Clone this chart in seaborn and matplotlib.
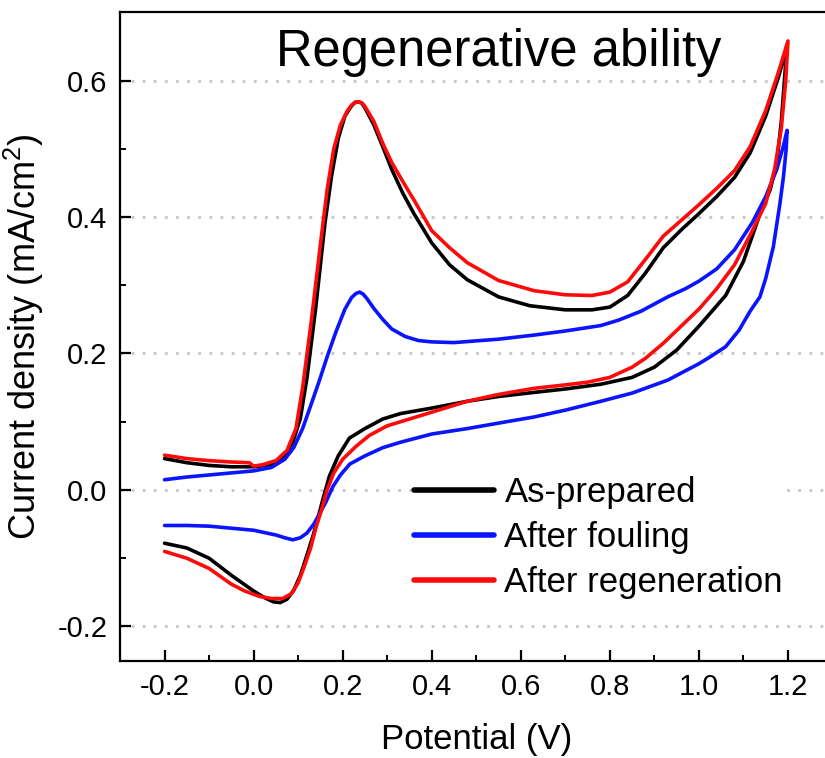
import numpy as np
import pandas as pd
import matplotlib
matplotlib.use("Agg")
import matplotlib.pyplot as plt
import seaborn as sns
from matplotlib.ticker import MultipleLocator

# --- data (forward scan then reverse scan) ---
as_prepared_E = [-0.2, -0.15, -0.1, -0.05, 0.0, 0.04, 0.065, 0.088, 0.105, 0.12, 0.14, 0.16, 0.175, 0.19,
                 0.205, 0.22, 0.228, 0.235, 0.243, 0.25, 0.27, 0.29, 0.31, 0.335, 0.36, 0.40, 0.44, 0.48, 0.55, 0.62,
                 0.70, 0.76, 0.80, 0.84, 0.88, 0.92, 0.96, 1.0, 1.04, 1.08, 1.115, 1.15, 1.18, 1.198,
                 1.192, 1.185, 1.175, 1.16, 1.14, 1.10, 1.06, 1.0, 0.95, 0.90, 0.85, 0.78, 0.70, 0.63,
                 0.55, 0.48, 0.44, 0.40, 0.33, 0.29, 0.25, 0.215, 0.19, 0.17, 0.155, 0.145, 0.133, 0.12,
                 0.105, 0.09, 0.075, 0.06, 0.045, 0.025, 0.0, -0.05, -0.1, -0.15, -0.2]
as_prepared_j = [0.046, 0.040, 0.036, 0.034, 0.034, 0.037, 0.046, 0.070, 0.105, 0.165, 0.27, 0.39, 0.46, 0.515,
                 0.548, 0.563, 0.568, 0.569, 0.567, 0.56, 0.535, 0.503, 0.47, 0.435, 0.405, 0.362, 0.33, 0.308, 0.283, 0.270,
                 0.264, 0.264, 0.268, 0.285, 0.318, 0.355, 0.381, 0.405, 0.43, 0.458, 0.494, 0.548, 0.608, 0.652,
                 0.60, 0.54, 0.48, 0.44, 0.41, 0.335, 0.285, 0.24, 0.205, 0.18, 0.165, 0.155, 0.148, 0.143,
                 0.137, 0.13, 0.125, 0.12, 0.112, 0.104, 0.09, 0.076, 0.05, 0.02, -0.015, -0.04, -0.068, -0.095,
                 -0.125, -0.147, -0.16, -0.165, -0.164, -0.158, -0.148, -0.125, -0.1, -0.085, -0.078]

fouled_E = [-0.2, -0.15, -0.1, -0.05, 0.0, 0.04, 0.07, 0.09, 0.11, 0.13, 0.148, 0.165, 0.185, 0.205,
            0.22, 0.23, 0.238, 0.246, 0.255, 0.27, 0.29, 0.31, 0.34, 0.37, 0.40, 0.45, 0.55, 0.63, 0.70, 0.78,
            0.82, 0.87, 0.93, 0.97, 1.0, 1.04, 1.08, 1.12, 1.15, 1.175, 1.19, 1.198,
            1.196, 1.19, 1.182, 1.167, 1.15, 1.137, 1.115, 1.09, 1.06, 1.025, 1.0, 0.93, 0.85, 0.78,
            0.70, 0.63, 0.55, 0.48, 0.40, 0.33, 0.29, 0.25, 0.216, 0.195, 0.178, 0.162, 0.148, 0.135,
            0.12, 0.105, 0.088, 0.07, 0.05, 0.0, -0.05, -0.1, -0.15, -0.2]
fouled_j = [0.015, 0.019, 0.022, 0.025, 0.028, 0.033, 0.045, 0.062, 0.09, 0.127, 0.161, 0.195, 0.232, 0.265,
            0.282, 0.288, 0.29, 0.287, 0.28, 0.266, 0.25, 0.236, 0.225, 0.219, 0.217, 0.216, 0.221, 0.227, 0.233, 0.241,
            0.249, 0.262, 0.283, 0.295, 0.306, 0.324, 0.352, 0.392, 0.43, 0.47, 0.505, 0.527,
            0.50, 0.46, 0.42, 0.356, 0.31, 0.283, 0.262, 0.234, 0.21, 0.195, 0.185, 0.161, 0.142, 0.13,
            0.117, 0.107, 0.098, 0.09, 0.082, 0.07, 0.062, 0.05, 0.038, 0.022, 0.005, -0.018, -0.035, -0.05,
            -0.063, -0.07, -0.073, -0.07, -0.066, -0.059, -0.056, -0.053, -0.052, -0.052]

regen_E = [-0.2, -0.15, -0.1, -0.05, -0.01, 0.0, 0.02, 0.05, 0.075, 0.095, 0.11, 0.13, 0.15, 0.165,
           0.18, 0.195, 0.21, 0.22, 0.228, 0.235, 0.243, 0.25, 0.27, 0.29, 0.31, 0.335, 0.36, 0.40, 0.44, 0.48,
           0.55, 0.63, 0.70, 0.76, 0.80, 0.84, 0.88, 0.92, 0.96, 1.0, 1.04, 1.08, 1.115, 1.15, 1.18, 1.2,
           1.195, 1.185, 1.17, 1.15, 1.12, 1.08, 1.04, 1.0, 0.96, 0.92, 0.88, 0.85, 0.80, 0.75, 0.70,
           0.63, 0.55, 0.48, 0.44, 0.40, 0.35, 0.30, 0.26, 0.23, 0.20, 0.18, 0.165, 0.152, 0.14, 0.128,
           0.115, 0.10, 0.085, 0.065, 0.04, 0.013, -0.02, -0.05, -0.1, -0.15, -0.2]
regen_j = [0.051, 0.046, 0.043, 0.041, 0.040, 0.035, 0.037, 0.043, 0.058, 0.09, 0.15, 0.25, 0.36, 0.44,
           0.5, 0.535, 0.555, 0.564, 0.568, 0.569, 0.567, 0.562, 0.54, 0.508, 0.48, 0.452, 0.425, 0.38, 0.355, 0.333,
           0.307, 0.292, 0.286, 0.285, 0.29, 0.305, 0.338, 0.372, 0.395, 0.418, 0.442, 0.468, 0.503, 0.556, 0.615, 0.658,
           0.60, 0.53, 0.47, 0.42, 0.38, 0.33, 0.295, 0.265, 0.24, 0.215, 0.193, 0.18, 0.165, 0.158, 0.154,
           0.149, 0.14, 0.13, 0.122, 0.114, 0.104, 0.094, 0.08, 0.064, 0.045, 0.025, 0.0, -0.03, -0.055, -0.085,
           -0.11, -0.136, -0.152, -0.159, -0.159, -0.156, -0.148, -0.138, -0.115, -0.1, -0.09]

labels = ["As-prepared", "After fouling", "After regeneration"]
colors = {"As-prepared": "#000000", "After fouling": "#0a14ff", "After regeneration": "#ff0a0a"}

df = pd.concat([
    pd.DataFrame({"E": as_prepared_E, "j": as_prepared_j, "sample": labels[0]}),
    pd.DataFrame({"E": fouled_E, "j": fouled_j, "sample": labels[1]}),
    pd.DataFrame({"E": regen_E, "j": regen_j, "sample": labels[2]}),
], ignore_index=True)

sns.set_style("white")
plt.rcParams["font.family"] = ["Liberation Sans", "DejaVu Sans"]
plt.rcParams["mathtext.fontset"] = "custom"
plt.rcParams["mathtext.rm"] = "Liberation Sans"
plt.rcParams["axes.unicode_minus"] = False
for key in ["text.color", "axes.labelcolor", "xtick.color", "ytick.color"]:
    plt.rcParams[key] = "black"

fig = plt.figure(figsize=(8.25, 7.58), dpi=100)
# right edge runs past the figure, as in the cropped original
ax = fig.add_axes([0.1455, 0.1285, 0.8636, 0.8553])

sns.lineplot(data=df, x="E", y="j", hue="sample", hue_order=labels, palette=colors,
             sort=False, estimator=None, linewidth=2.6, ax=ax)

ax.set_xlim(-0.3, 1.3)
ax.set_ylim(-0.25, 0.7)
ax.xaxis.set_minor_locator(MultipleLocator(0.1))
ax.yaxis.set_minor_locator(MultipleLocator(0.1))
ax.set_xticks([-0.2, 0.0, 0.2, 0.4, 0.6, 0.8, 1.0, 1.2])
ax.set_xticklabels(["-0.2", "0.0", "0.2", "0.4", "0.6", "0.8", "1.0", "1.2"])
ax.set_yticks([-0.2, 0.0, 0.2, 0.4, 0.6])
ax.set_yticklabels(["-0.2", "0.0", "0.2", "0.4", "0.6"])
ax.tick_params(which="major", direction="in", length=8, width=1.6, labelsize=21, pad=9, color="black")
ax.tick_params(which="minor", direction="in", length=4, width=1.4, color="black")
ax.tick_params(axis="x", which="both", bottom=True)
ax.tick_params(axis="y", which="both", left=True)

ax.grid(False)
ax.yaxis.grid(True, which="major", linestyle=(0, (1, 3)), linewidth=2, color="#c4c4c4")
ax.set_axisbelow(True)
for side in ["left", "bottom", "top", "right"]:
    ax.spines[side].set_linewidth(1.6)
    ax.spines[side].set_color("black")

ax.set_xlabel("Potential (V)", fontsize=25, labelpad=16)
ax.set_ylabel(r"Current density (mA/cm$^2$)", fontsize=26, labelpad=8)

ax.text(0.531, 0.976, "Regenerative ability", transform=ax.transAxes, ha="center", va="top", fontsize=36.5)

leg = ax.legend(loc="upper left", bbox_to_anchor=(0.408, 0.29), fontsize=25, frameon=True,
                facecolor="white", edgecolor="none", framealpha=1, handlelength=2.3,
                handletextpad=0.3, labelspacing=0.34, borderpad=0.1, borderaxespad=0)
for line in leg.get_lines():
    line.set_linewidth(4)

fig.savefig("out.png", dpi=100)
